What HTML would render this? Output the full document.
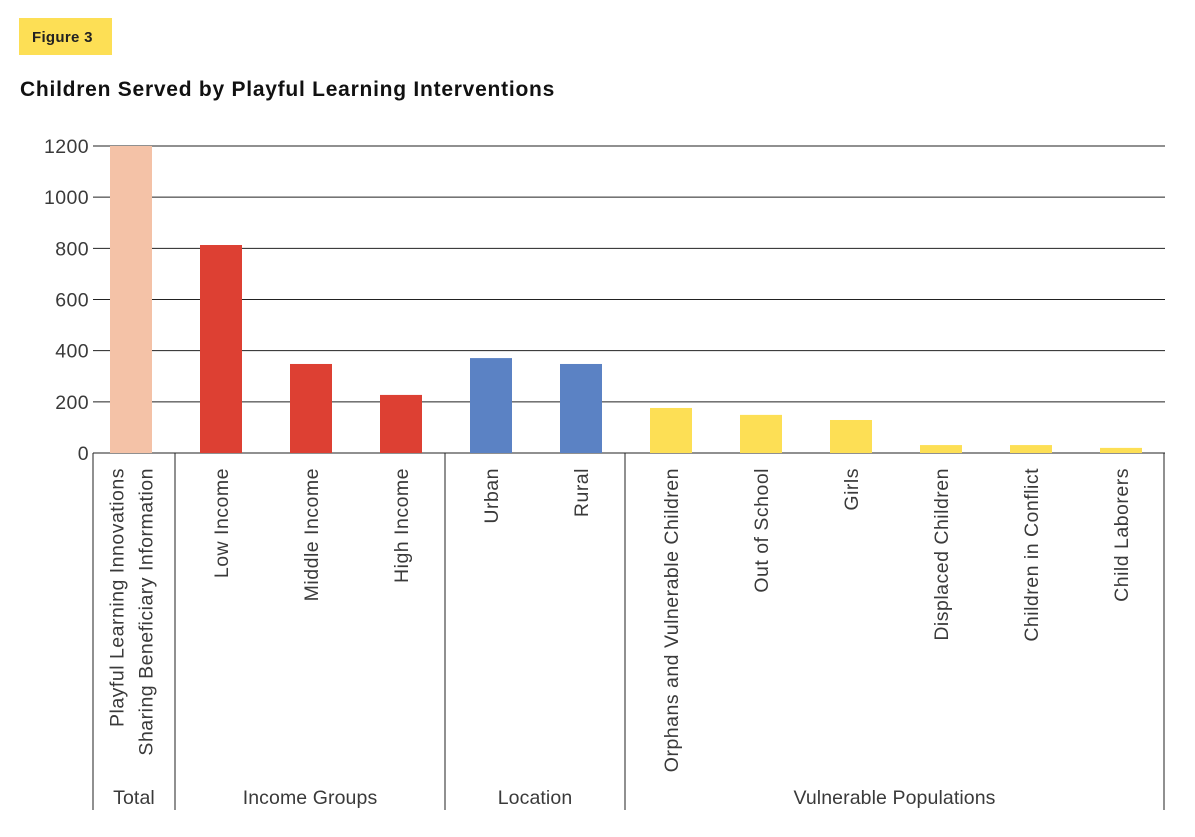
<!DOCTYPE html>
<html><head><meta charset="utf-8"><style>
body{margin:0;background:#fff;width:1195px;height:832px;overflow:hidden;font-family:"Liberation Sans",sans-serif}
</style></head><body>
<svg width="1195" height="832" xmlns="http://www.w3.org/2000/svg" font-family="Liberation Sans, sans-serif">
<rect x="19" y="18" width="93" height="37" fill="#fddf55"/>
<text x="32" y="42" font-size="15" font-weight="bold" fill="#222" letter-spacing="0.3">Figure 3</text>
<text x="20" y="96" font-size="21" font-weight="bold" fill="#111" letter-spacing="0.75">Children Served by Playful Learning Interventions</text>
<g id="grid"></g><g id="bars"></g><g id="xlab"></g>
</svg>
<script>
const categories=[["Playful Learning Innovations","Sharing Beneficiary Information"],["Low Income"],["Middle Income"],["High Income"],["Urban"],["Rural"],["Orphans and Vulnerable Children"],["Out of School"],["Girls"],["Displaced Children"],["Children in Conflict"],["Child Laborers"]];
const values=[1200,813,348,227,371,348,176,149,129,31,31,20];
const groupIdx=[0,1,1,1,2,2,3,3,3,3,3,3];
const groupNames=["Total","Income Groups","Location","Vulnerable Populations"];
const groupColors=["#f4c2a7","#dd4033","#5b82c4","#fddf55"];
const yTicks=[0,200,400,600,800,1000,1200];
const NS="http://www.w3.org/2000/svg";
const y0=453,y1=146,ymax=1200;
const y=v=>y0-(v/ymax)*(y0-y1);
const xc=i=>131+90*i;
function mk(t,a,p){const e=document.createElementNS(NS,t);for(const k in a)e.setAttribute(k,a[k]);p.appendChild(e);return e;}
const grid=document.getElementById('grid'),bars=document.getElementById('bars'),xl=document.getElementById('xlab');
yTicks.forEach(t=>{
 const l=mk('line',{x1:93,x2:1165,y1:y(t),y2:y(t),stroke:'#222','stroke-width':1},grid);
 
 
 const tx=mk('text',{x:89,y:y(t)+7,'text-anchor':'end','font-size':19.5,'letter-spacing':0.4,fill:'#3a3a3a'},grid);
 tx.textContent=t;
 
 
});
values.forEach((v,i)=>{
 const r=mk('rect',{x:xc(i)-21,y:y(v),width:42,height:y0-y(v),fill:groupColors[groupIdx[i]]},bars);
 
 
 const lines=categories[i];
 lines.forEach((s,j)=>{
  const cx=xc(i)+(j-(lines.length-1)/2)*29+7;
  const t=mk('text',{x:0,y:0,'text-anchor':'end','font-size':19.5,'letter-spacing':0.5,fill:'#3a3a3a',transform:`translate(${cx},468) rotate(-90)`},xl);
  t.textContent=s;
  
  
 });
});
const bounds=[93];
for(let g=0;g<groupNames.length;g++){
 const idx=groupIdx.map((d,i)=>d===g?i:-1).filter(i=>i>=0);
 const last=idx[idx.length-1];
 bounds.push(g===groupNames.length-1?1164:xc(last)+44);
}
bounds.forEach(b=>{
 const l=mk('line',{x1:b,x2:b,y1:453,y2:810,stroke:'#222','stroke-width':1},xl);
 
 
});
groupNames.forEach((n,g)=>{
 const t=mk('text',{x:(bounds[g]+bounds[g+1])/2,y:804,'text-anchor':'middle','font-size':19.5,'letter-spacing':0.1,fill:'#3a3a3a'},xl);
 t.textContent=n;
 
 
});
</script>
</body></html>
